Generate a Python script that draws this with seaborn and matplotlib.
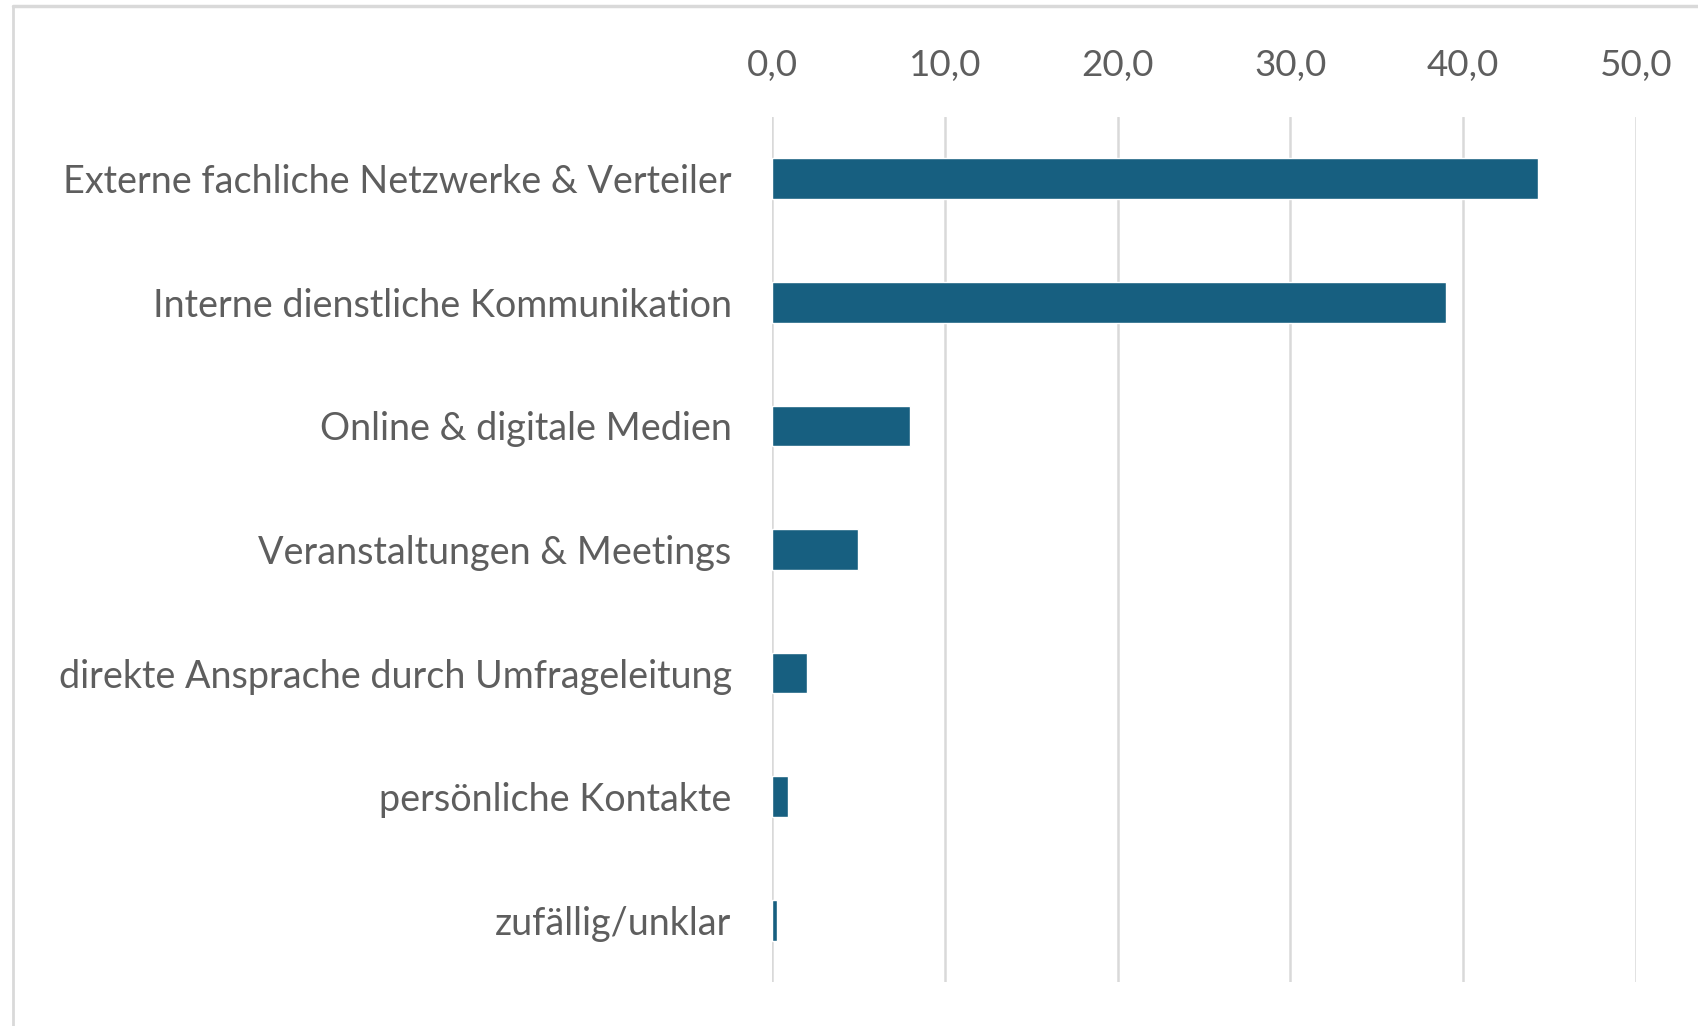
import matplotlib
matplotlib.use("Agg")
import matplotlib.pyplot as plt
import seaborn as sns
import pandas as pd
from matplotlib.lines import Line2D

categories = [
    "Externe fachliche Netzwerke & Verteiler",
    "Interne dienstliche Kommunikation",
    "Online & digitale Medien",
    "Veranstaltungen & Meetings",
    "direkte Ansprache durch Umfrageleitung",
    "persönliche Kontakte",
    "zufällig/unklar",
]
values = [44.3, 39.0, 8.0, 5.0, 2.0, 0.9, 0.3]
x_ticks = [0, 10, 20, 30, 40, 50]
x_tick_labels = ["0,0", "10,0", "20,0", "30,0", "40,0", "50,0"]

sns.set_theme(style="white")
plt.rcParams["font.family"] = ["Lato", "DejaVu Sans"]

df = pd.DataFrame({"Kategorie": categories, "Anteil": values})

fig = plt.figure(figsize=(16.98, 10.26), dpi=100)
ax = fig.add_axes([772 / 1698, 1 - 982 / 1026, (1636 - 772) / 1698, (982 - 117) / 1026])

sns.barplot(data=df, x="Anteil", y="Kategorie", orient="h", color="#175F80",
            saturation=1, width=0.33, ax=ax, zorder=3)

ax.set_xlim(0, 50)
ax.set_ylim(len(categories) - 0.5, -0.5)
ax.set_xticks(x_ticks)
ax.set_xticklabels(x_tick_labels)
ax.xaxis.tick_top()
ax.grid(axis="x", color="#D9D9D9", linewidth=1.8, zorder=0)
ax.grid(axis="y", visible=False)
for s in ax.spines.values():
    s.set_visible(False)
ax.set_xlabel("")
ax.set_ylabel("")
ax.tick_params(axis="x", length=0, pad=25.5, labelsize=26.5, labelcolor="#5E5E5E")
ax.tick_params(axis="y", length=0, pad=29, labelsize=27.2, labelcolor="#5E5E5E")

# light frame around the chart area (top and left edges)
fig.add_artist(Line2D([13 / 1698, 13 / 1698], [0, 1 - 6 / 1026], transform=fig.transFigure,
                      color="#D9D9D9", linewidth=2.0))
fig.add_artist(Line2D([13 / 1698, 1], [1 - 6 / 1026, 1 - 6 / 1026], transform=fig.transFigure,
                      color="#D9D9D9", linewidth=2.5))

fig.savefig("out.png", dpi=100, facecolor="white")
